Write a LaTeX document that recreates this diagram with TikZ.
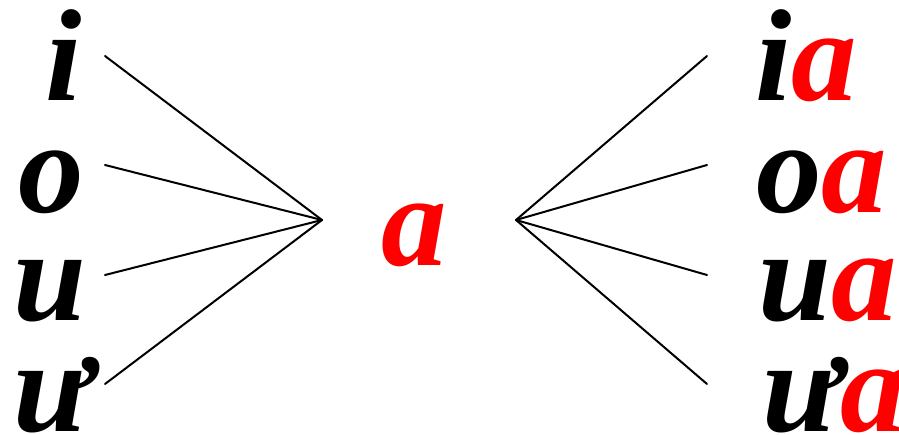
\documentclass[tikz,border=0pt]{standalone}
\usepackage{fontspec}
\setmainfont{Liberation Serif}
\usetikzlibrary{positioning}
\tikzset{
  vw/.style={font=\fontsize{131}{131}\selectfont\bfseries\itshape, inner sep=0pt, anchor=base west,
             text height=96pt, text depth=2pt},
  ln/.style={line width=2pt, line cap=round}
}
\newcommand{\ra}{\textcolor{red}{a}}

\begin{document}
\begin{tikzpicture}[x=1pt,y=-1pt]
\useasboundingbox (0,0) rectangle (899,435);
% single vowels
\node[vw] (i)  at (45,101) {i};
\node[vw] (o)  at (18,213) {o};
\node[vw] (u)  at (13,321) {u};
\node[vw] (uw) at (13,431) {ư};
\node[vw, red] (a) at (381,266) {a};
% pairs
\node[vw] (ia)  at (755,101) {i\ra};
\node[vw] (oa)  at (756,213) {o\ra};
\node[vw] (ua)  at (758,321) {u\ra};
\node[vw] (uwa) at (762,431) {ư\ra};
\coordinate (hl) at (322,220);
\coordinate (hr) at (516,220);
\foreach \v/\y in {i/56,o/165,u/275,uw/384}{
  \coordinate (\v-e) at (105,\y);
  \coordinate (\v a-e) at (707,\y);
  \draw[ln] (\v-e) -- (hl);
  \draw[ln] (hr) -- (\v a-e);
}
\end{tikzpicture}
\end{document}
